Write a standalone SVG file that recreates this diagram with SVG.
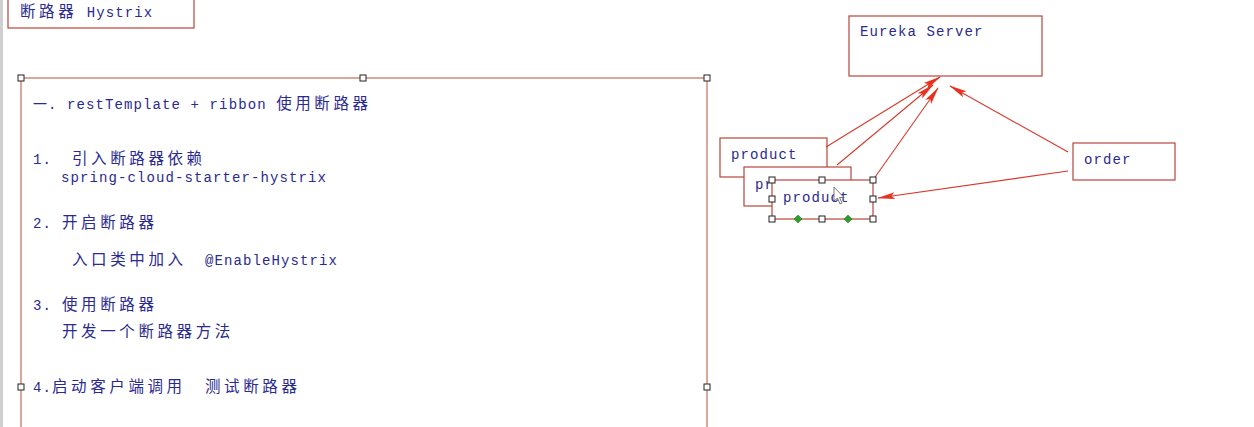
<svg xmlns="http://www.w3.org/2000/svg" width="1254" height="427" viewBox="0 0 1254 427">
<style>
.t{font-family:"Liberation Mono","Noto Sans CJK SC",monospace;font-size:14px;letter-spacing:1.1px;fill:#2a2a90}
.c{font-family:"Noto Sans CJK SC",sans-serif;font-size:15.5px;letter-spacing:3.6px}
.box{fill:#fff;stroke:#b5473a;stroke-width:1.2}
.main{fill:none;stroke:#d08a7c;stroke-width:1.5}
.h{fill:#fff;stroke:#222;stroke-width:1}
.g{fill:#2aa02a;stroke:#1a6a1a;stroke-width:0.5}
.e{stroke:#d8382a;stroke-width:1.1;fill:none;marker-end:url(#ah)}
</style>
<defs>
<marker id="ah" viewBox="0 0 18 9" refX="17" refY="4.5" markerWidth="18" markerHeight="9" markerUnits="userSpaceOnUse" orient="auto">
<path d="M0,1 L18,4.5 L0,8 L3.5,4.5 Z" fill="#e8321f"/>
</marker>
</defs>
<rect width="1254" height="427" fill="#fff"/>
<rect x="0" y="0" width="3" height="427" fill="#cfcfcf"/>

<g id="title">
<rect class="box" x="8" y="-2" width="186" height="30"/>
<text class="t" x="20" y="17"><tspan class="c">断路器</tspan> Hystrix</text>
</g>

<g id="steps">
<rect class="main" x="21" y="78" width="686" height="360"/>
<text class="t" x="33" y="109">一. restTemplate + ribbon <tspan class="c">使用断路器</tspan></text>
<text class="t" x="33" y="164">1.  <tspan class="c" x="72">引入断路器依赖</tspan></text>
<text class="t" x="61" y="182">spring-cloud-starter-hystrix</text>
<text class="t" x="33" y="228">2. <tspan class="c" x="62">开启断路器</tspan></text>
<text class="t" x="72" y="265"><tspan class="c">入口类中加入</tspan><tspan x="205">@EnableHystrix</tspan></text>
<text class="t" x="33" y="310">3. <tspan class="c" x="62">使用断路器</tspan></text>
<text class="t" x="62" y="337"><tspan class="c">开发一个断路器方法</tspan></text>
<text class="t" x="33" y="392">4.<tspan class="c" x="52">启动客户端调用</tspan><tspan class="c" x="205">测试断路器</tspan></text>
<rect class="h" x="18" y="75" width="6" height="6"/>
<rect class="h" x="360" y="75" width="6" height="6"/>
<rect class="h" x="704" y="75" width="6" height="6"/>
<rect class="h" x="18" y="384" width="6" height="6"/>
<rect class="h" x="704" y="384" width="6" height="6"/>
</g>

<g id="eureka">
<rect class="box" x="849" y="16" width="193" height="60"/>
<text class="t" x="860" y="36">Eureka Server</text>
</g>

<g id="order">
<rect class="box" x="1073" y="143" width="102" height="37"/>
<text class="t" x="1084" y="164">order</text>
</g>

<g id="product1">
<rect class="box" x="720" y="138" width="107" height="39"/>
<text class="t" x="731" y="159">product</text>
</g>

<g id="product2">
<rect class="box" x="744" y="167" width="107" height="39"/>
<text class="t" x="755" y="189">pr</text>
</g>

<g id="connectors">
<line class="e" x1="826" y1="147" x2="940" y2="77"/>
<line class="e" x1="837" y1="165" x2="933" y2="85"/>
<line class="e" x1="873" y1="180" x2="938" y2="88"/>
<line class="e" x1="1068" y1="152" x2="950" y2="86"/>
<line class="e" x1="1068" y1="171" x2="878" y2="198"/>
</g>

<g id="product3">
<rect class="box" x="772" y="180" width="101" height="39"/>
<text class="t" x="783" y="202">product</text>
<rect class="h" x="769" y="177" width="6" height="6"/>
<rect class="h" x="819" y="177" width="6" height="6"/>
<rect class="h" x="870" y="177" width="6" height="6"/>
<rect class="h" x="769" y="196" width="6" height="6"/>
<rect class="h" x="870" y="196" width="6" height="6"/>
<rect class="h" x="769" y="216" width="6" height="6"/>
<rect class="h" x="819" y="216" width="6" height="6"/>
<rect class="h" x="870" y="216" width="6" height="6"/>
<path class="g" d="M798,215 L802,219 L798,223 L794,219 Z"/>
<path class="g" d="M848,215 L852,219 L848,223 L844,219 Z"/>
<path d="M834,187 L834,201 L837.5,198 L840,204 L842,203 L839.5,197.5 L844,197.5 Z" fill="#fff" stroke="#555" stroke-width="0.8"/>
</g>
</svg>
